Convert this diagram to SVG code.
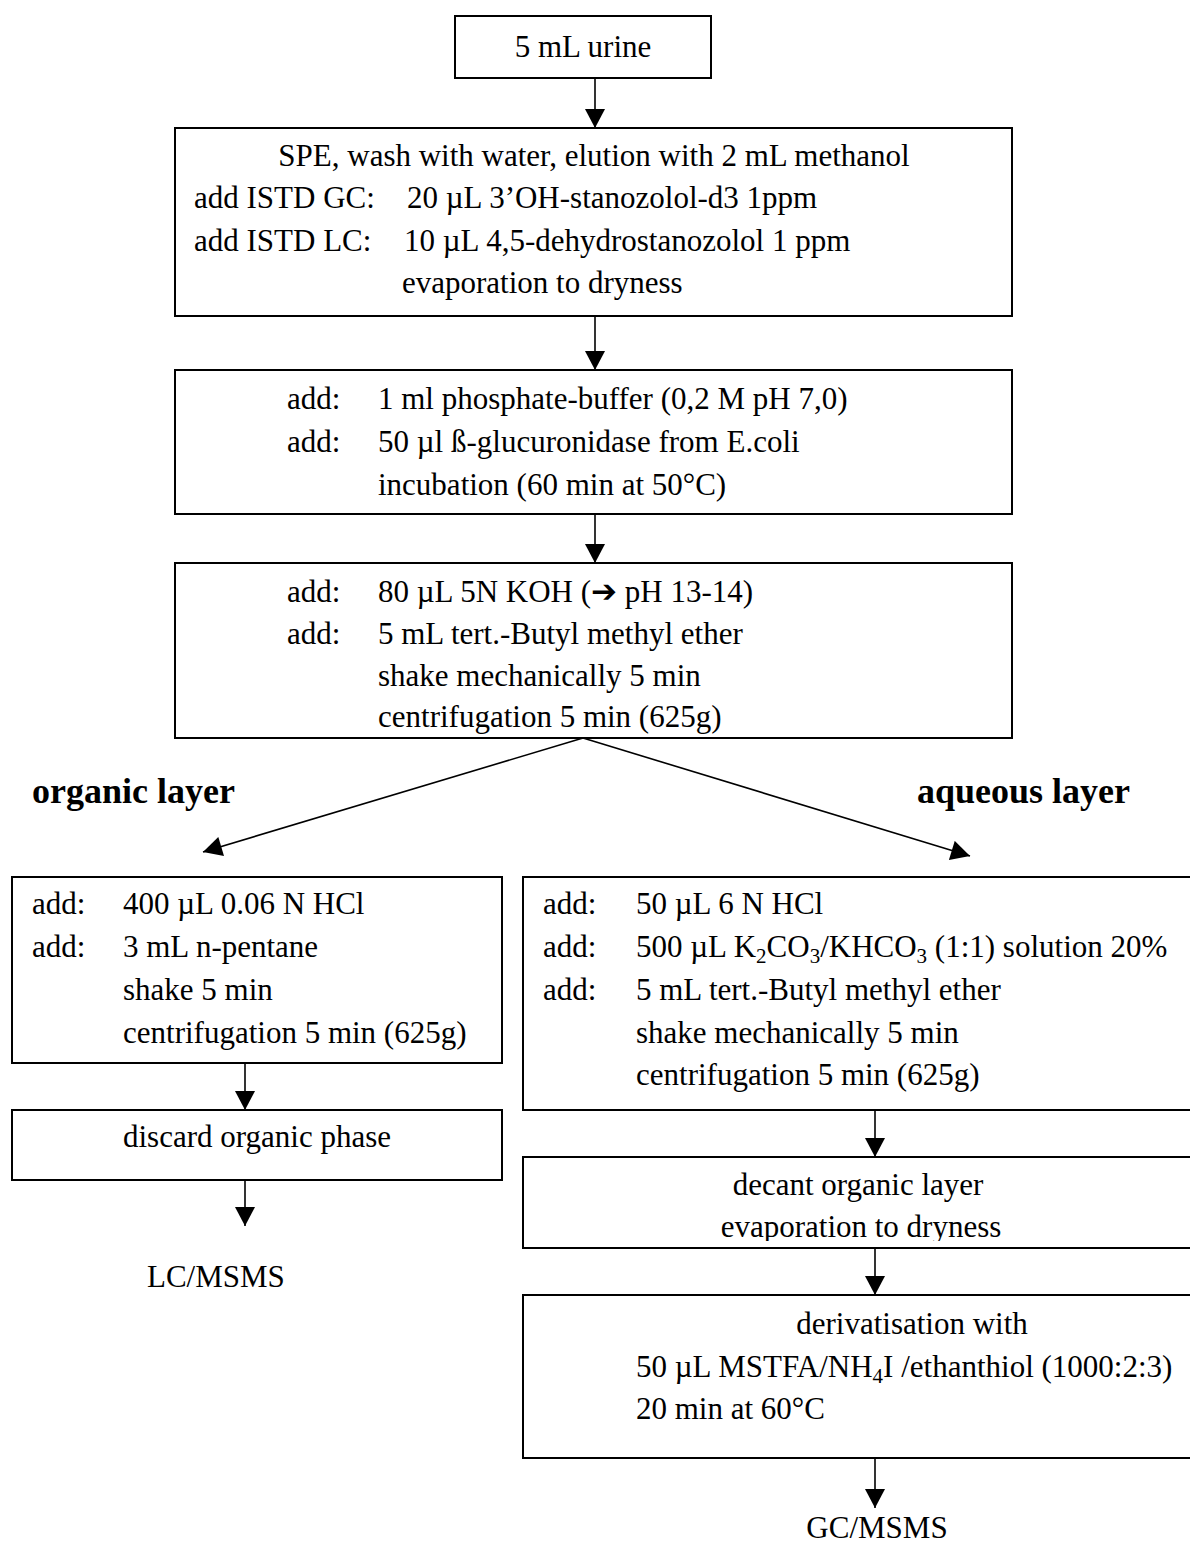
<svg xmlns="http://www.w3.org/2000/svg" width="1190" height="1544" viewBox="0 0 1190 1544">
<style>
.box{fill:#fff;stroke:#000;stroke-width:2}
.t{font-family:"Liberation Serif","Times New Roman",serif;font-size:31px;fill:#000}
.c{text-anchor:middle}
.b{font-family:"Liberation Serif","Times New Roman",serif;font-size:36px;font-weight:bold;fill:#000}
.ln{stroke:#000;stroke-width:1.6;fill:none}
.sub{font-size:21px}
.ar{font-family:"DejaVu Sans",sans-serif;font-weight:bold;font-size:31px}
</style>
<defs>
<marker id="ah" markerUnits="userSpaceOnUse" markerWidth="20" markerHeight="20" viewBox="0 0 19 20" refX="19" refY="10" orient="auto">
<path d="M0,0 L19,10 L0,20 Z" fill="#000"/>
</marker>
<clipPath id="clipDecant"><rect x="523" y="1157" width="690" height="84"/></clipPath>
</defs>
<rect width="1190" height="1544" fill="#fff"/>
<g id="connectors">
<line class="ln" x1="595" y1="78" x2="595" y2="128" marker-end="url(#ah)"/>
<line class="ln" x1="595" y1="316" x2="595" y2="370" marker-end="url(#ah)"/>
<line class="ln" x1="595" y1="514" x2="595" y2="563" marker-end="url(#ah)"/>
<line class="ln" x1="583" y1="738" x2="203" y2="852" marker-end="url(#ah)"/>
<line class="ln" x1="583" y1="738" x2="970" y2="856" marker-end="url(#ah)"/>
<line class="ln" x1="245" y1="1063" x2="245" y2="1110" marker-end="url(#ah)"/>
<line class="ln" x1="245" y1="1180" x2="245" y2="1226" marker-end="url(#ah)"/>
<line class="ln" x1="875" y1="1110" x2="875" y2="1157" marker-end="url(#ah)"/>
<line class="ln" x1="875" y1="1248" x2="875" y2="1295" marker-end="url(#ah)"/>
<line class="ln" x1="875" y1="1458" x2="875" y2="1508" marker-end="url(#ah)"/>
</g>
<g id="urine">
<rect class="box" x="455" y="16" width="256" height="62"/>
<text class="t c" x="583" y="57">5 mL urine</text>
</g>
<g id="spe">
<rect class="box" x="175" y="128" width="837" height="188"/>
<text class="t c" x="594" y="166">SPE, wash with water, elution with 2 mL methanol</text>
<text class="t" x="194" y="208">add ISTD GC:</text>
<text class="t" x="407" y="208">20 µL 3’OH-stanozolol-d3 1ppm</text>
<text class="t" x="194" y="251">add ISTD LC:</text>
<text class="t" x="404" y="251">10 µL 4,5-dehydrostanozolol 1 ppm</text>
<text class="t" x="402" y="293">evaporation to dryness</text>
</g>
<g id="hydrolysis">
<rect class="box" x="175" y="370" width="837" height="144"/>
<text class="t" x="287" y="409">add:</text>
<text class="t" x="378" y="409">1 ml phosphate-buffer (0,2 M pH 7,0)</text>
<text class="t" x="287" y="452">add:</text>
<text class="t" x="378" y="452">50 µl ß-glucuronidase from E.coli</text>
<text class="t" x="378" y="495">incubation (60 min at 50°C)</text>
</g>
<g id="extraction">
<rect class="box" x="175" y="563" width="837" height="175"/>
<text class="t" x="287" y="602">add:</text>
<text class="t" x="378" y="602">80 µL 5N KOH (<tspan class="ar">➔</tspan> pH 13-14)</text>
<text class="t" x="287" y="644">add:</text>
<text class="t" x="378" y="644">5 mL tert.-Butyl methyl ether</text>
<text class="t" x="378" y="686">shake mechanically 5 min</text>
<text class="t" x="378" y="727">centrifugation 5 min (625g)</text>
</g>
<g id="label-organic">
<text class="b" x="32" y="803">organic layer</text>
</g>
<g id="label-aqueous">
<text class="b" x="917" y="803">aqueous layer</text>
</g>
<g id="organic">
<rect class="box" x="12" y="877" width="490" height="186"/>
<text class="t" x="32" y="914">add:</text>
<text class="t" x="123" y="914">400 µL 0.06 N HCl</text>
<text class="t" x="32" y="957">add:</text>
<text class="t" x="123" y="957">3 mL n-pentane</text>
<text class="t" x="123" y="1000">shake 5 min</text>
<text class="t" x="123" y="1043">centrifugation 5 min (625g)</text>
</g>
<g id="discard">
<rect class="box" x="12" y="1110" width="490" height="70"/>
<text class="t" x="123" y="1147">discard organic phase</text>
</g>
<g id="lcmsms">
<text class="t" x="147" y="1287">LC/MSMS</text>
</g>
<g id="aqueous">
<rect class="box" x="523" y="877" width="690" height="233"/>
<text class="t" x="543" y="914">add:</text>
<text class="t" x="636" y="914">50 µL 6 N HCl</text>
<text class="t" x="543" y="957">add:</text>
<text class="t" x="636" y="957">500 µL K<tspan class="sub" dy="6">2</tspan><tspan dy="-6">CO</tspan><tspan class="sub" dy="6">3</tspan><tspan dy="-6">/KHCO</tspan><tspan class="sub" dy="6">3</tspan><tspan dy="-6"> (1:1) solution 20%</tspan></text>
<text class="t" x="543" y="1000">add:</text>
<text class="t" x="636" y="1000">5 mL tert.-Butyl methyl ether</text>
<text class="t" x="636" y="1043">shake mechanically 5 min</text>
<text class="t" x="636" y="1085">centrifugation 5 min (625g)</text>
</g>
<g id="decant">
<rect class="box" x="523" y="1157" width="690" height="91"/>
<g clip-path="url(#clipDecant)">
<text class="t c" x="858" y="1195">decant organic layer</text>
<text class="t c" x="861" y="1237">evaporation to dryness</text>
</g>
</g>
<g id="derivatisation">
<rect class="box" x="523" y="1295" width="690" height="163"/>
<text class="t c" x="912" y="1334">derivatisation with</text>
<text class="t" x="636" y="1377">50 µL MSTFA/NH<tspan class="sub" dy="6">4</tspan><tspan dy="-6">I /ethanthiol (1000:2:3)</tspan></text>
<text class="t" x="636" y="1419">20 min at 60°C</text>
</g>
<g id="gcmsms">
<text class="t c" x="877" y="1538">GC/MSMS</text>
</g>
</svg>
